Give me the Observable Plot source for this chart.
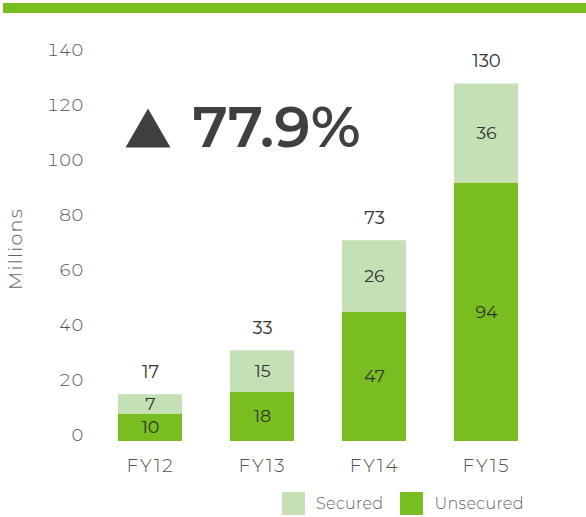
<!DOCTYPE html>
<html>
<head>
<meta charset="utf-8">
<script src="https://cdn.jsdelivr.net/npm/d3@7"></script>
<script src="https://cdn.jsdelivr.net/npm/@observablehq/plot@0.6"></script>
<style>
  html, body { margin: 0; padding: 0; background: #fff; }
  body { width: 586px; height: 517px; position: relative; overflow: hidden; font-family: "Montserrat", Lato, "Open Sans", sans-serif; }
  #topbar { position: absolute; left: 3px; top: 3px; width: 583px; height: 10px; background: #78BE20; }
  #chart { position: absolute; left: 0; top: 0; }
  #legend { position: absolute; left: 282px; top: 492px; display: flex; align-items: center; font-size: 16px; color: #666; font-weight: 300; letter-spacing: 0.3px; }
  #legend .sw { width: 23px; height: 23px; display: inline-block; margin-right: 11px; }
  #legend .item { display: flex; align-items: center; margin-right: 17px; }
</style>
</head>
<body>
<div id="topbar"></div>
<div id="chart"></div>
<div id="legend"></div>
<script>
const years = ["FY12", "FY13", "FY14", "FY15"];
const unsecured = [10, 18, 47, 94];
const secured = [7, 15, 26, 36];
const totals = [17, 33, 73, 130];
const series = ["Unsecured", "Secured"];
const seriesColors = ["#78BE20", "#C5E0B4"];
const yTicks = [0, 20, 40, 60, 80, 100, 120, 140];
const growthLabel = "77.9%";
const yLabel = "Millions";

const rows = [];
years.forEach((y, i) => {
  rows.push({year: y, series: "Unsecured", value: unsecured[i]});
  rows.push({year: y, series: "Secured", value: secured[i]});
});
const totalRows = years.map((y, i) => ({year: y, total: totals[i]}));

const font = `"Montserrat", Lato, "Open Sans", sans-serif`;

const chart = Plot.plot({
  width: 586,
  height: 485,
  marginTop: 56,
  marginBottom: 44,
  marginLeft: 60.6,
  marginRight: 10.6,
  style: {fontFamily: font, background: "transparent"},
  x: {domain: years, paddingInner: 0.432, paddingOuter: 0.5, label: null},
  y: {domain: [0, 140], label: null},
  color: {domain: series, range: seriesColors},
  marks: [
    Plot.axisY({ticks: yTicks, tickSize: 0, tickPadding: 0, dx: 22.4, dy: -6, fontSize: 17.5, fill: "#555", fontWeight: 300, label: null}),
    Plot.axisX({tickSize: 0, tickPadding: 17, fontSize: 18.5, fill: "#555", fontWeight: 300, label: null}),
    Plot.text([yLabel], {text: d => d, frameAnchor: "left", textAnchor: "middle", rotate: -90, dx: -45, fontSize: 19, fill: "#666", fontWeight: 300}),
    Plot.barY(rows, Plot.stackY({x: "year", y: "value", fill: "series", order: series})),
    Plot.text(rows, Plot.stackY({x: "year", y: "value", z: "series", order: series, text: d => String(d.value), fontSize: 17.5, fill: "#333", fontWeight: 400})),
    Plot.text(totalRows, {x: "year", y: "total", text: d => String(d.total), dy: -22.5, fontSize: 18, fill: "#333", fontWeight: 400}),
    Plot.dot([growthLabel], {frameAnchor: "top-left", dx: 147.5 - 60.6, dy: 134 - 56, symbol: "triangle", r: 16.7, fill: "#404040"}),
    Plot.text([growthLabel], {text: d => d, frameAnchor: "top-left", textAnchor: "start", lineAnchor: "middle", dx: 192 - 60.6, dy: 128 - 56, fontSize: 58, fill: "#404040", fontWeight: 600})
  ]
});
document.getElementById("chart").appendChild(chart);

d3.select(chart).selectAll('g[aria-label="x-axis tick label"]').attr("letter-spacing", "1.8");
d3.select(chart).selectAll("text").filter(function() { return this.textContent === yLabel; }).attr("letter-spacing", "1.3");

const legend = document.getElementById("legend");
["Secured", "Unsecured"].forEach(name => {
  const item = document.createElement("div");
  item.className = "item";
  const sw = document.createElement("span");
  sw.className = "sw";
  sw.style.background = seriesColors[series.indexOf(name)];
  item.appendChild(sw);
  const t = document.createElement("span");
  t.textContent = name;
  item.appendChild(t);
  legend.appendChild(item);
});
</script>
</body>
</html>
